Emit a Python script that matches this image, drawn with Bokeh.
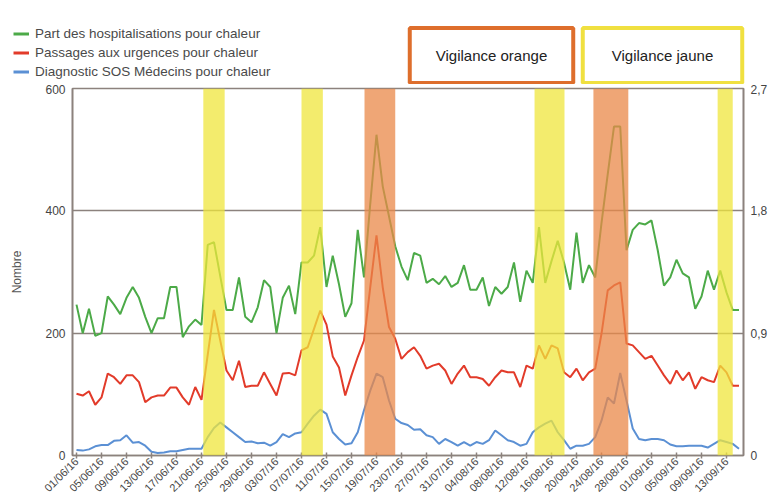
import math
import pandas as pd
from bokeh.plotting import figure
from bokeh.layouts import column
from bokeh.models import (Range1d, LinearAxis, FixedTicker, DatetimeTickFormatter,
                          BoxAnnotation, Legend, LegendItem, Label)
from bokeh.embed import file_html
from bokeh.resources import INLINE

# ---------------- data ----------------
start_date = "2016-06-01"
n_days = 107
dates = pd.date_range(start_date, periods=n_days, freq="D")

# Part des hospitalisations pour chaleur (right axis, %)
hospit = [1.11, 0.90, 1.08, 0.88, 0.90, 1.17, 1.11, 1.04, 1.16, 1.24,
          1.16, 1.02, 0.90, 1.01, 1.01, 1.24, 1.24, 0.87, 0.95, 1.00,
          0.96, 1.55, 1.57, 1.32, 1.07, 1.07, 1.31, 1.02, 0.98, 1.09,
          1.29, 1.24, 0.90, 1.16, 1.25, 1.04, 1.42, 1.42, 1.47, 1.68,
          1.24, 1.47, 1.26, 1.02, 1.12, 1.66, 1.31, 1.85, 2.36, 1.98,
          1.76, 1.54, 1.39, 1.29, 1.49, 1.47, 1.27, 1.30, 1.26, 1.32,
          1.24, 1.27, 1.40, 1.22, 1.22, 1.31, 1.10, 1.24, 1.19, 1.24,
          1.42, 1.13, 1.36, 1.27, 1.68, 1.27, 1.43, 1.58, 1.42, 1.22,
          1.64, 1.27, 1.40, 1.31, 1.71, 2.07, 2.42, 2.42, 1.51, 1.66,
          1.71, 1.70, 1.73, 1.51, 1.25, 1.31, 1.44, 1.34, 1.31, 1.08,
          1.17, 1.36, 1.22, 1.36, 1.20, 1.07, 1.07]

# Passages aux urgences pour chaleur (left axis)
urgences = [101, 98, 105, 83, 95, 134, 128, 117, 131, 131,
            120, 87, 95, 98, 98, 111, 111, 95, 83, 112,
            91, 165, 238, 188, 139, 123, 155, 112, 114, 114,
            136, 117, 98, 134, 135, 131, 172, 177, 207, 237,
            214, 162, 144, 98, 131, 161, 188, 275, 360, 275,
            210, 191, 158, 169, 177, 163, 142, 147, 150, 139,
            117, 134, 147, 128, 128, 125, 114, 128, 139, 136,
            136, 112, 147, 142, 180, 158, 180, 175, 136, 128,
            142, 123, 136, 142, 199, 270, 278, 283, 183, 180,
            169, 158, 163, 147, 131, 117, 139, 123, 136, 109,
            128, 123, 120, 147, 136, 114, 114]

# Diagnostic SOS Médecins pour chaleur (left axis)
sos = [9, 8, 10, 15, 17, 17, 24, 25, 33, 21,
       22, 16, 6, 4, 5, 7, 7, 9, 11, 11,
       11, 30, 45, 54, 46, 38, 30, 22, 23, 20,
       21, 16, 22, 35, 30, 36, 38, 52, 65, 75,
       68, 38, 27, 18, 20, 38, 74, 106, 134, 128,
       90, 60, 53, 50, 42, 43, 33, 30, 19, 27,
       22, 16, 22, 16, 22, 19, 25, 41, 33, 25,
       22, 16, 19, 38, 46, 52, 57, 38, 25, 11,
       16, 16, 19, 30, 57, 95, 85, 135, 90, 44,
       27, 25, 27, 27, 25, 18, 15, 15, 16, 16,
       16, 13, 19, 25, 22, 19, 11]

series_labels = ["Part des hospitalisations pour chaleur",
                 "Passages aux urgences pour chaleur",
                 "Diagnostic SOS Médecins pour chaleur"]

# vigilance periods
jaune_start = ["2016-06-21 07:00", "2016-07-07 00:00", "2016-08-13 07:00", "2016-09-11 14:00"]
jaune_end = ["2016-06-24 17:00", "2016-07-10 10:00", "2016-08-18 02:00", "2016-09-14 00:00"]
orange_start = ["2016-07-17 02:00", "2016-08-22 17:00"]
orange_end = ["2016-07-22 00:00", "2016-08-28 07:00"]
vigilance_labels = ["Vigilance orange", "Vigilance jaune"]

tick_dates = pd.date_range("2016-06-01", "2016-09-15", freq="4D")
left_ticks = [0, 200, 400, 600]
right_ticks = [0, 0.9, 1.8, 2.7]
right_tick_labels = ["0", "0,9", "1,8", "2,7"]

assert len(hospit) == n_days and len(urgences) == n_days and len(sos) == n_days

# ---------------- styling ----------------
FONT = "Liberation Sans"
FRAME = "#8c827d"
GREEN = "#4caa48"
RED = "#e23b2a"
BLUE = "#5b90d4"
W = 771
TOP_H = 84
MAIN_H = 420


def ms(s):
    return pd.Timestamp(s).timestamp() * 1000.0


# ---------------- main chart ----------------
p = figure(width=W, height=MAIN_H, x_axis_type="datetime",
           x_range=Range1d(ms("2016-05-31 08:40"), ms("2016-09-15 17:20")),
           y_range=Range1d(0, 600),
           output_backend="svg", toolbar_location=None,
           min_border_left=72, min_border_right=28, min_border_top=4, min_border_bottom=49)
p.extra_y_ranges = {"pct": Range1d(0, 2.7)}
p.background_fill_color = "white"
p.border_fill_color = "white"
p.outline_line_color = FRAME
p.outline_line_width = 1.6

p.xgrid.grid_line_color = None
p.ygrid.ticker = FixedTicker(ticks=left_ticks[1:3])
p.ygrid.grid_line_color = FRAME
p.ygrid.grid_line_width = 1.6

xa = p.xaxis[0]
xa.ticker = FixedTicker(ticks=[t.timestamp() * 1000.0 for t in tick_dates])
xa.formatter = DatetimeTickFormatter(days="%d/%m/%y", months="%d/%m/%y", years="%d/%m/%y",
                                     hours="%d/%m/%y", hourmin="%d/%m/%y")
xa.major_label_orientation = math.pi / 4
xa.major_label_text_font = FONT
xa.major_label_text_font_size = "11px"
xa.major_label_text_color = "#444444"
xa.major_label_standoff = 1
xa.axis_line_color = FRAME
xa.axis_line_width = 1.6
xa.major_tick_line_color = FRAME
xa.major_tick_line_width = 1.5
xa.major_tick_in = 3
xa.major_tick_out = 3
xa.minor_tick_line_color = None

ya = p.yaxis[0]
ya.ticker = FixedTicker(ticks=left_ticks)
ya.axis_label = "Nombre"
ya.axis_label_text_font = FONT
ya.axis_label_text_font_size = "12px"
ya.axis_label_text_font_style = "normal"
ya.axis_label_text_color = "#555555"
ya.axis_label_standoff = 18
ya.major_label_text_font = FONT
ya.major_label_text_font_size = "12px"
ya.major_label_text_color = "#444444"
ya.major_label_standoff = 7
ya.axis_line_color = FRAME
ya.axis_line_width = 1.6
ya.major_tick_line_color = None
ya.major_tick_out = 0
ya.major_tick_in = 0
ya.minor_tick_line_color = None
ya.minor_tick_out = 0

ra = LinearAxis(y_range_name="pct", ticker=FixedTicker(ticks=right_ticks),
                major_label_overrides=dict(zip(right_ticks, right_tick_labels)))
ra.major_label_text_font = FONT
ra.major_label_text_font_size = "12px"
ra.major_label_text_color = "#444444"
ra.major_label_standoff = 7
ra.axis_line_color = FRAME
ra.axis_line_width = 1.6
ra.major_tick_line_color = None
ra.major_tick_out = 0
ra.major_tick_in = 0
ra.minor_tick_line_color = None
ra.minor_tick_out = 0
p.add_layout(ra, "right")

r_green = p.line(dates, hospit, y_range_name="pct", line_color=GREEN, line_width=2)
r_red = p.line(dates, urgences, line_color=RED, line_width=2)
r_blue = p.line(dates, sos, line_color=BLUE, line_width=2)

for s, e in zip(jaune_start, jaune_end):
    p.add_layout(BoxAnnotation(left=ms(s), right=ms(e), fill_color="#efe63c", fill_alpha=0.75,
                               line_color=None))
for s, e in zip(orange_start, orange_end):
    p.add_layout(BoxAnnotation(left=ms(s), right=ms(e), fill_color="#ea8848", fill_alpha=0.75,
                               line_color=None))

# ---------------- header (legend + vigilance keys) ----------------
h = figure(width=W, height=TOP_H, x_range=Range1d(0, W), y_range=Range1d(0, TOP_H),
           output_backend="svg", toolbar_location=None,
           x_axis_location=None, y_axis_location=None,
           min_border_left=0, min_border_right=0, min_border_top=0, min_border_bottom=0)
h.grid.visible = False
h.outline_line_color = None
h.background_fill_color = "white"
h.border_fill_color = "white"
aligned = True
try:
    h.frame_align = False
    p.frame_align = False
    aligned = False
except Exception:
    aligned = True
DX = -72 if aligned else 0  # header frame offset when frames get aligned in the column

# single-point lines: they draw nothing themselves, only provide the legend glyphs
g_green = h.line(x=[0], y=[0], line_color=GREEN, line_width=3)
g_red = h.line(x=[0], y=[0], line_color=RED, line_width=3)
g_blue = h.line(x=[0], y=[0], line_color=BLUE, line_width=3)
legend = Legend(items=[LegendItem(label=series_labels[0], renderers=[g_green]),
                       LegendItem(label=series_labels[1], renderers=[g_red]),
                       LegendItem(label=series_labels[2], renderers=[g_blue])],
                location=(13 + DX, 3), orientation="vertical",
                padding=0, spacing=0, margin=0,
                glyph_width=16, glyph_height=19, label_height=19, label_standoff=6,
                label_text_font=FONT, label_text_font_size="13.5px", label_text_color="#4a4a4a",
                border_line_color=None, background_fill_alpha=0)
h.add_layout(legend)

h.add_layout(Label(x=491 + DX, y=29, x_units="screen", y_units="screen", text=vigilance_labels[0],
                   text_align="center", text_baseline="middle", text_font=FONT,
                   text_font_size="15px", text_color="#222222",
                   border_line_color="#de6e2c", border_line_width=4,
                   background_fill_color="white", padding=(26, 19)))
h.add_layout(Label(x=662 + DX, y=29, x_units="screen", y_units="screen", text=vigilance_labels[1],
                   text_align="center", text_baseline="middle", text_font=FONT,
                   text_font_size="15px", text_color="#222222",
                   border_line_color="#f0e040", border_line_width=4,
                   background_fill_color="white", padding=(29, 19)))

layout = column(h, p, spacing=0)
open("out.html", "w").write(file_html(layout, INLINE))
